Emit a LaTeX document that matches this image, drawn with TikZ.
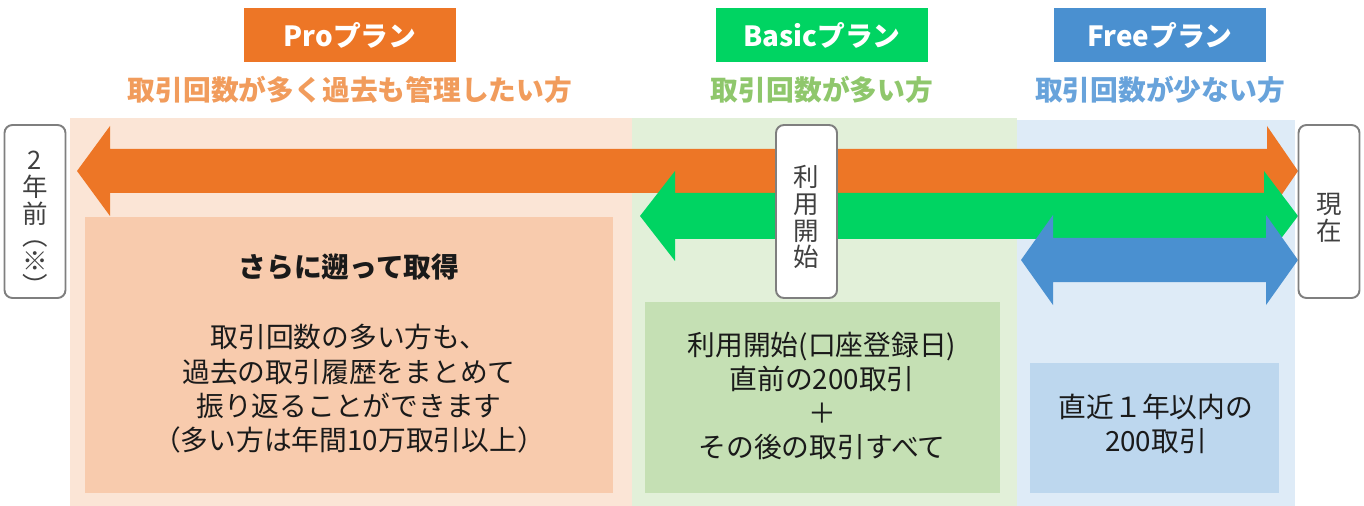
\documentclass[tikz,border=0pt]{standalone}
\usepackage{fontspec}
\setmainfont{Noto Sans CJK JP}
\usepackage{xcolor}
\definecolor{proorange}{HTML}{ED7626}
\definecolor{propanel}{HTML}{FBE5D6}
\definecolor{probox}{HTML}{F8CBAD}
\definecolor{protext}{HTML}{F19C5C}
\definecolor{basicgreen}{HTML}{00D462}
\definecolor{basicpanel}{HTML}{E2F0D9}
\definecolor{basicbox}{HTML}{C5E0B4}
\definecolor{basictext}{HTML}{8FC76C}
\definecolor{freeblue}{HTML}{4A90D0}
\definecolor{freepanel}{HTML}{DEEBF7}
\definecolor{freebox}{HTML}{BDD7EE}
\definecolor{freetext}{HTML}{68A3DB}
\definecolor{markgray}{HTML}{7F7F7F}
\definecolor{marktext}{HTML}{404040}
\definecolor{bodytext}{HTML}{1A1A1A}

\begin{document}
\begin{tikzpicture}[x=0.02cm, y=-0.02cm,
    plantitle/.style={fill=#1, text=white, inner sep=0pt,
        minimum width=4.24cm, minimum height=1.08cm,
        font=\fontsize{15.8}{18}\selectfont\bfseries},
    plannote/.style={text=#1, inner sep=0pt,
        font=\fontsize{15.8}{18}\selectfont\bfseries},
    bodytxt/.style={text=bodytext, align=center, inner sep=0pt,
        font=\fontsize{15.8}{19.5}\selectfont},
    markbox/.style={draw=markgray, line width=1.1pt, fill=white,
        rounded corners=4.5pt, minimum width=1.22cm, minimum height=3.46cm},
    marktxt/.style={text=marktext, align=center, inner sep=0pt,
        font=\fontsize{14.5}{15.3}\selectfont}]
    \useasboundingbox (0,0) rectangle (1364,506);

    % Background panels
    \fill[propanel] (70,118) rectangle (632,506);
    \fill[basicpanel] (632,118) rectangle (1017,506);
    \fill[freepanel] (1017,120) rectangle (1295,506);

    % Detail boxes
    \fill[probox] (85,217) rectangle (613,493);
    \fill[basicbox] (645,302) rectangle (1000,493);
    \fill[freebox] (1030,363) rectangle (1279,493);

    % Plan titles
    \node[plantitle=proorange] (proTitle) at (350,35) {Proプラン};
    \node[plantitle=basicgreen] (basicTitle) at (822,35) {Basicプラン};
    \node[plantitle=freeblue] (freeTitle) at (1160,35) {Freeプラン};

    \node[plannote=protext] (proNote) at (350,90) {取引回数が多く過去も管理したい方};
    \node[plannote=basictext] (basicNote) at (822,90) {取引回数が多い方};
    \node[plannote=freetext] (freeNote) at (1160,90) {取引回数が少ない方};

    % Period arrows
    \fill[proorange] (77,171) -- (110,126) -- (110,149) -- (1267,149) -- (1267,126)
        -- (1298,171) -- (1267,216) -- (1267,193) -- (110,193) -- (110,216) -- cycle;
    \fill[basicgreen] (640,216) -- (675,171) -- (675,193) -- (1264,193) -- (1264,171)
        -- (1298,216) -- (1264,261) -- (1264,239) -- (675,239) -- (675,261) -- cycle;
    \fill[freeblue] (1021,260) -- (1053,215) -- (1053,238) -- (1266,238) -- (1266,215)
        -- (1298,260) -- (1266,305) -- (1266,282) -- (1053,282) -- (1053,305) -- cycle;

    % Time marks
    \node[markbox] (agoBox) at (35,211.5) {};
    \node[marktxt, anchor=north] (agoText) at (35,151) {2\\年\\前\\[-3pt]︵\\[-1pt]※\\[-1pt]︶};
    \node[markbox] (startBox) at (806.5,211.5) {};
    \node[marktxt] (startText) at (806.5,217) {利\\用\\開\\始};
    \node[markbox] (nowBox) at (1329,211.5) {};
    \node[marktxt] (nowText) at (1329,218) {現\\在};

    % Box texts
    \node[bodytxt, font=\fontsize{15.8}{19.5}\selectfont\bfseries] (proHead) at (349,267) {さらに遡って取得};
    \node[bodytxt] (proBody) at (349,389) {取引回数の多い方も、\\過去の取引履歴をまとめて\\振り返ることができます\\（多い方は年間10万取引以上）};
    \node[bodytxt] (basicBody) at (822,396) {利用開始(口座登録日)\\直前の200取引\\＋\\その後の取引すべて};
    \node[bodytxt] (freeBody) at (1156,424) {直近１年以内の\\200取引};
\end{tikzpicture}
\end{document}
